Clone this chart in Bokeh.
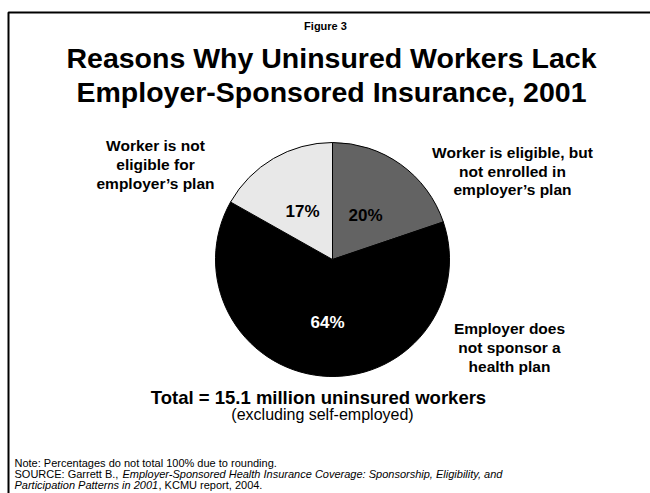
from bokeh.plotting import figure
from bokeh.models import Range1d, ColumnDataSource
from bokeh.core.properties import value
from bokeh.embed import file_html
from bokeh.resources import INLINE
import math

# ---- data ----
categories = ["Worker is eligible, but not enrolled in employer\u2019s plan",
              "Employer does not sponsor a health plan",
              "Worker is not eligible for employer\u2019s plan"]
shares = [20, 64, 17]
pct_labels = ["20%", "64%", "17%"]
slice_colors = ["#636363", "#000000", "#e8e8e8"]
pct_colors = ["#000000", "#ffffff", "#000000"]

W, H = 650, 493
FONT = "Liberation Sans"

p = figure(width=W, height=H, output_backend="svg", toolbar_location=None,
           x_range=Range1d(0, W), y_range=Range1d(0, H), min_border=0)
p.axis.visible = False
p.grid.visible = False
p.outline_line_color = None
p.background_fill_color = "white"
p.border_fill_color = "white"

def Y(y):
    return H - y

# frame
p.line([8, 8, 652], [Y(495), Y(12), Y(12)], line_color="black", line_width=2)

# pie
cx, cy, r = 332, Y(259), 117
total = sum(shares)
starts, ends = [], []
cum = 0
for s in shares:
    a0 = 90 - (cum + s) / total * 360
    a1 = 90 - cum / total * 360
    starts.append(math.radians(a0))
    ends.append(math.radians(a1))
    cum += s
src = ColumnDataSource(dict(start=starts, end=ends, color=slice_colors))
p.wedge(x=cx, y=cy, radius=r, start_angle="start", end_angle="end",
        fill_color="color", line_color="black", line_width=1, source=src)

# percent labels
pct_pos = [(365, 215), (327, 322), (302, 211)]
p.text(x=[q[0] for q in pct_pos], y=[Y(q[1]) for q in pct_pos], text=pct_labels,
       text_color=pct_colors, text_font=value(FONT), text_font_style="bold",
       text_font_size="17px", text_align="center", text_baseline="middle")

def block(lines, x, y0, dy, size, style="bold", align="center", color="black"):
    p.text(x=[x] * len(lines), y=[Y(y0 + i * dy) for i in range(len(lines))], text=lines,
           text_font=value(FONT), text_font_style=style, text_font_size=size,
           text_align=align, text_baseline="middle", text_color=color)

block(["Worker is eligible, but", "not enrolled in", "employer\u2019s plan"], 512, 152, 18.5, "15.5px")
block(["Employer does", "not sponsor a", "health plan"], 509, 328, 19, "15.5px")
block(["Worker is not", "eligible for", "employer\u2019s plan"], 155, 145, 19, "15.5px")

block(["Figure 3"], 325, 25, 0, "11px")
block(["Reasons Why Uninsured Workers Lack", "Employer-Sponsored Insurance, 2001"], 331, 57, 34, "28.5px")
block(["Total = 15.1 million uninsured workers"], 318, 397, 0, "18.5px")
block(["(excluding self-employed)"], 322, 414, 0, "16px", style="normal")

block(["Note: Percentages do not total 100% due to rounding."], 14, 462, 0, "11px", style="normal", align="left")
# source line with italic title
p.text(x=[14], y=[Y(473)], text=["SOURCE: Garrett B., "], text_font=value(FONT), text_font_size="11px",
       text_align="left", text_baseline="middle")
p.text(x=[122], y=[Y(473)], text=["Employer-Sponsored Health Insurance Coverage: Sponsorship, Eligibility, and"],
       text_font=value(FONT), text_font_size="11px", text_font_style="italic",
       text_align="left", text_baseline="middle")
p.text(x=[14], y=[Y(484)], text=["Participation Patterns in 2001"], text_font=value(FONT), text_font_size="11px",
       text_font_style="italic", text_align="left", text_baseline="middle")
p.text(x=[158], y=[Y(484)], text=[", KCMU report, 2004."], text_font=value(FONT), text_font_size="11px",
       text_align="left", text_baseline="middle")

open("out.html", "w").write(file_html(p, INLINE))
